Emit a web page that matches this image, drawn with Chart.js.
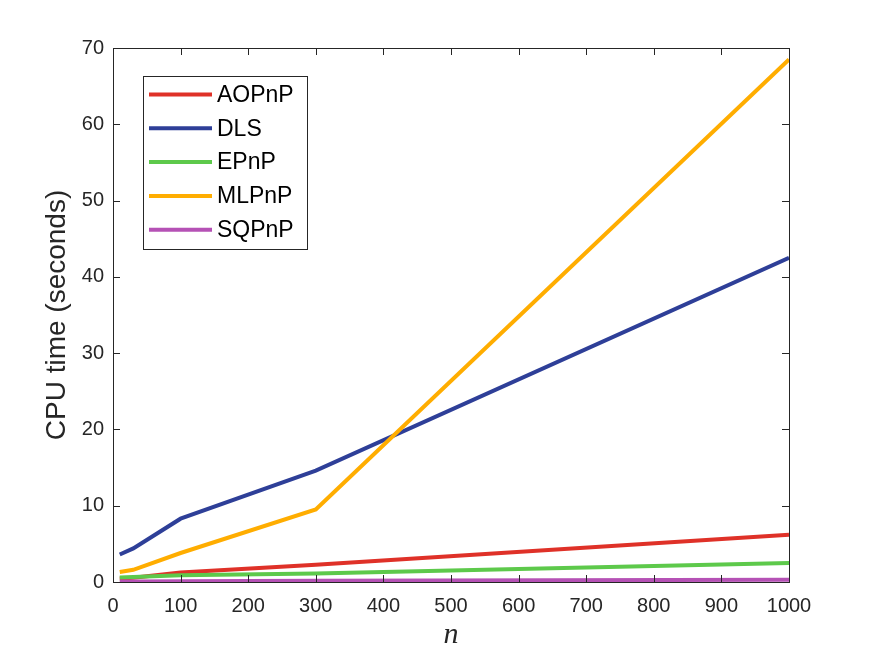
<!DOCTYPE html>
<html>
<head>
<meta charset="utf-8">
<script src="https://cdn.jsdelivr.net/npm/chart.js@4"></script>
<style>
html,body{margin:0;padding:0;background:#fff;}
#wrap{width:872px;height:654px;}
</style>
</head>
<body>
<div id="wrap"><canvas id="c" width="872" height="654"></canvas></div>
<script>
const nValues = [10, 30, 100, 300, 1000];
const seriesNames = ["AOPnP", "DLS", "EPnP", "MLPnP", "SQPnP"];
const aopnp = [0.45, 0.55, 1.25, 2.25, 6.2];
const dls = [3.6, 4.4, 8.3, 14.6, 42.5];
const epnp = [0.6, 0.65, 0.9, 1.1, 2.5];
const mlpnp = [1.3, 1.6, 3.8, 9.5, 68.5];
const sqpnp = [0.08, 0.08, 0.1, 0.15, 0.3];
const seriesValues = [aopnp, dls, epnp, mlpnp, sqpnp];
const seriesColors = ["#DF3128", "#2E3F98", "#5DC94B", "#FFAD00", "#B551B5"];
const xTicks = [0, 100, 200, 300, 400, 500, 600, 700, 800, 900, 1000];
const yTicks = [0, 10, 20, 30, 40, 50, 60, 70];

const AXIS = "#262626";

const datasets = seriesNames.map((name, i) => ({
  label: name,
  data: nValues.map((n, j) => ({x: n, y: seriesValues[i][j]})),
  borderColor: seriesColors[i],
  backgroundColor: seriesColors[i],
  borderWidth: 4,
  pointRadius: 0,
  tension: 0,
  fill: false,
  order: seriesNames.length - i
}));

const boxTicksPlugin = {
  id: 'boxTicks',
  afterDatasetsDraw(chart) {
    const {ctx, chartArea: a, scales} = chart;
    ctx.save();
    ctx.strokeStyle = AXIS;
    ctx.lineWidth = 1;
    ctx.beginPath();
    const L = 7;
    scales.x.ticks.forEach(t => {
      const px = Math.round(scales.x.getPixelForValue(t.value)) + 0.5;
      ctx.moveTo(px, a.bottom); ctx.lineTo(px, a.bottom - L);
      ctx.moveTo(px, a.top); ctx.lineTo(px, a.top + L);
    });
    scales.y.ticks.forEach(t => {
      const py = Math.round(scales.y.getPixelForValue(t.value)) + 0.5;
      ctx.moveTo(a.left, py); ctx.lineTo(a.left + L, py);
      ctx.moveTo(a.right, py); ctx.lineTo(a.right - L, py);
    });
    ctx.stroke();
    ctx.strokeRect(Math.round(a.left) + 0.5, Math.round(a.top) + 0.5, Math.round(a.right - a.left), Math.round(a.bottom - a.top));
    ctx.restore();
  }
};

const legendPlugin = {
  id: 'boxLegend',
  afterDraw(chart) {
    const {ctx} = chart;
    const bx = 143, by = 76, bw = 164, bh = 173;
    ctx.save();
    ctx.fillStyle = "#fff";
    ctx.fillRect(bx, by, bw, bh);
    ctx.strokeStyle = AXIS;
    ctx.lineWidth = 1;
    ctx.strokeRect(bx + 0.5, by + 0.5, bw, bh);
    ctx.font = "23px 'Liberation Sans', Arial, sans-serif";
    ctx.textBaseline = "middle";
    ctx.textAlign = "left";
    chart.data.datasets.forEach((ds, i) => {
      const y = by + 18.5 + i * 33.8;
      ctx.strokeStyle = ds.borderColor;
      ctx.lineWidth = 4;
      ctx.beginPath();
      ctx.moveTo(149, y);
      ctx.lineTo(212, y);
      ctx.stroke();
      ctx.fillStyle = "#000";
      ctx.fillText(ds.label, 217, y + 1);
    });
    ctx.restore();
  }
};

new Chart(document.getElementById('c'), {
  type: 'line',
  data: {datasets},
  plugins: [boxTicksPlugin, legendPlugin],
  options: {
    responsive: false,
    animation: false,
    devicePixelRatio: 1,
    layout: {padding: {left: 0, top: 48, right: 83, bottom: 0}},
    plugins: {legend: {display: false}, tooltip: {enabled: false}},
    scales: {
      x: {
        type: 'linear',
        min: 0, max: 1000,
        afterFit: s => { s.height = 72; },
        afterBuildTicks: s => { s.ticks = xTicks.map(v => ({value: v})); },
        grid: {display: false, drawTicks: false},
        border: {display: false},
        ticks: {color: AXIS, padding: 12, font: {family: "'Liberation Sans', Arial, sans-serif", size: 20}, maxRotation: 0, autoSkip: false,
          callback: v => String(v)},
        title: {display: true, text: 'n', color: AXIS, padding: {top: 0, bottom: 1},
          font: {family: "'Liberation Serif', 'DejaVu Serif', serif", size: 30, style: 'italic'}}
      },
      y: {
        type: 'linear',
        min: 0, max: 70,
        afterFit: s => { s.width = 113; },
        afterBuildTicks: s => { s.ticks = yTicks.map(v => ({value: v})); },
        grid: {display: false, drawTicks: false},
        border: {display: false},
        ticks: {color: AXIS, padding: 9, font: {family: "'Liberation Sans', Arial, sans-serif", size: 20}, autoSkip: false,
          callback: v => String(v)},
        title: {display: true, text: 'CPU time (seconds)', color: AXIS, padding: {top: 40, bottom: 0},
          font: {family: "'Liberation Sans', Arial, sans-serif", size: 28}}
      }
    }
  }
});
</script>
</body>
</html>
